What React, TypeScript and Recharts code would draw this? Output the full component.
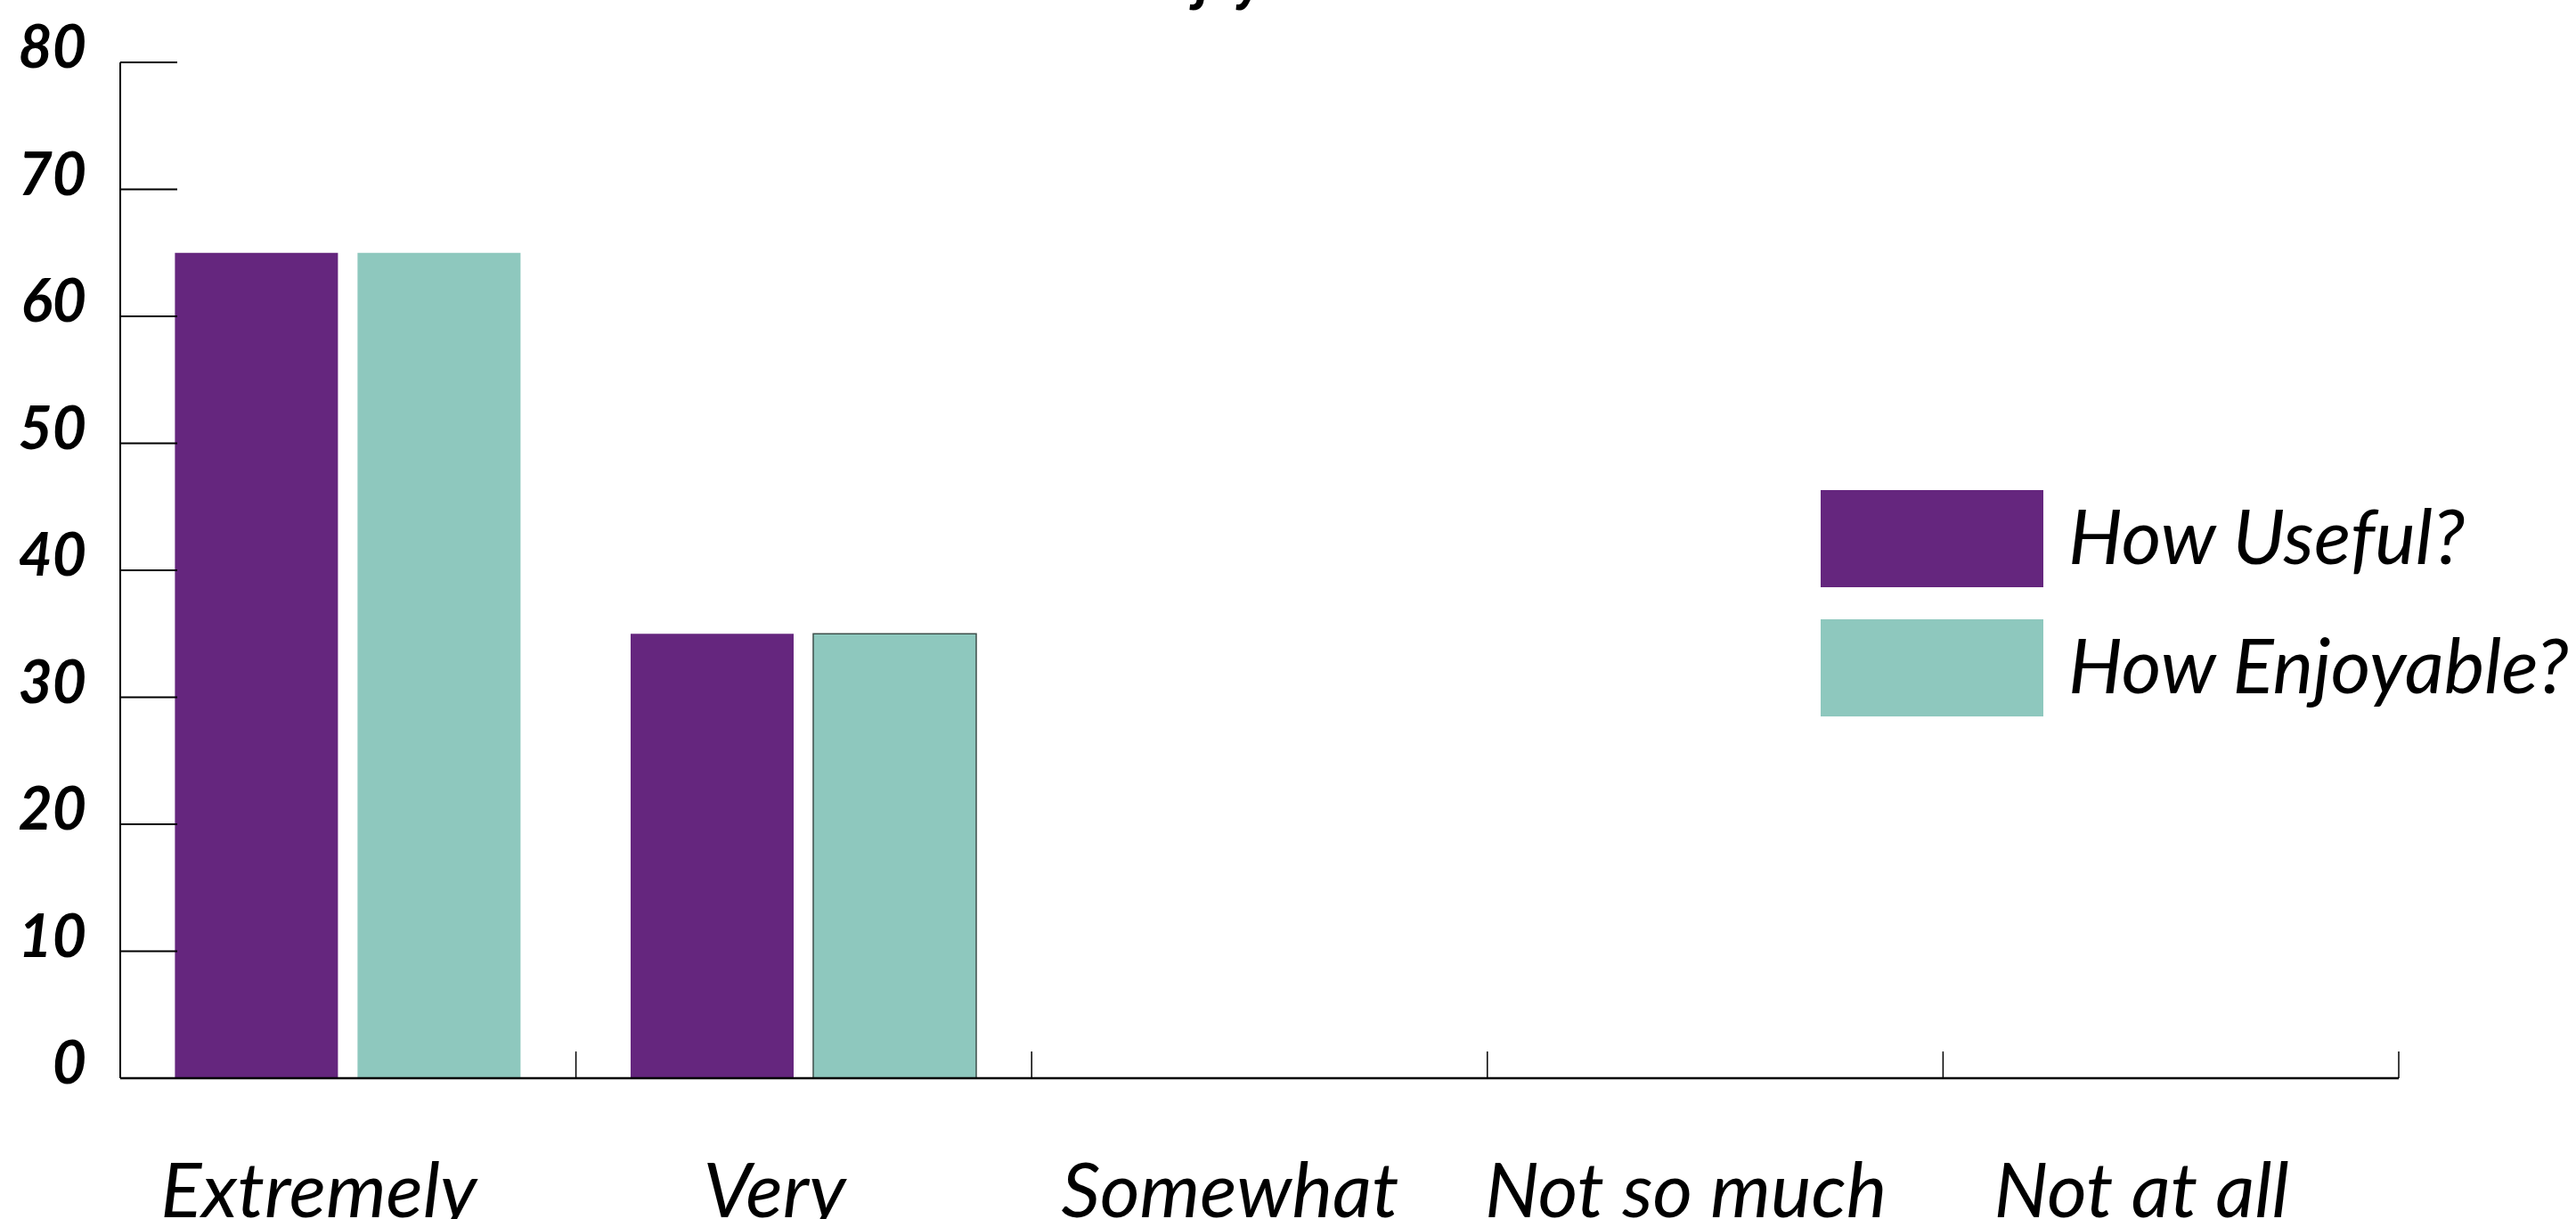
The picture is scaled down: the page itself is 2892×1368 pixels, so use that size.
import { BarChart, Bar, XAxis, YAxis, Legend, Cell, Customized } from 'recharts';

const categories = ['Extremely', 'Very', 'Somewhat', 'Not so much', 'Not at all'];
const usefulValues = [65, 35, 0, 0, 0];
const enjoyableValues = [65, 35, 0, 0, 0];
const yTicks = [0, 10, 20, 30, 40, 50, 60, 70, 80];
const seriesNames = ['How Useful?', 'How Enjoyable?'];
const title = 'How Useful and Enjoyable?';

const PURPLE = '#65267e';
const TEAL = '#8ec8be';
const FONT = 'Lato, "Open Sans", sans-serif';

const data = categories.map((name, i) => ({
  name,
  useful: usefulValues[i],
  enjoyable: enjoyableValues[i],
}));

const YTick = (props: any) => (
  <text
    x={props.x + 2}
    y={props.y + 6}
    textAnchor="end"
    fontFamily={FONT}
    fontStyle="italic"
    fontWeight={700}
    fontSize={66}
    fill="#000"
  >
    {props.payload.value}
  </text>
);

// label under each band, plus a short upward tick at the band's right edge
const XTick = (props: any) => {
  const half = props.payload.offset ?? 0;
  const edge = props.x + half;
  return (
    <g>
      <line x1={edge} x2={edge} y1={props.y} y2={props.y - 30} stroke="#000" strokeWidth={1.5} />
      <text
        x={props.x - 33}
        y={props.y + 156}
        textAnchor="middle"
        fontFamily={FONT}
        fontStyle="italic"
        fontSize={86}
        fill="#000"
      >
        {props.payload.value}
      </text>
    </g>
  );
};

const LegendBox = () => (
  <div style={{ fontFamily: FONT, fontStyle: 'italic', fontSize: 86, color: '#000', lineHeight: 1 }}>
    {seriesNames.map((name, i) => (
      <div key={name} style={{ display: 'flex', alignItems: 'center', height: 109, marginBottom: 36 }}>
        <div style={{ width: 250, height: 109, background: i === 0 ? PURPLE : TEAL, marginRight: 28, flex: 'none' }} />
        <span style={{ whiteSpace: 'nowrap', position: 'relative', top: -5 }}>{name}</span>
      </div>
    ))}
  </div>
);

const Title = () => (
  <text x={868} y={-1} fontFamily="Roboto, sans-serif" fontStyle="italic" fontWeight={700} fontSize={58} fill="#000">
    {title}
  </text>
);

export default function App() {
  return (
    <div style={{ position: 'fixed', left: 0, top: 0, background: '#fff' }}>
      <BarChart
        width={2892}
        height={1368}
        data={data}
        margin={{ top: 70, right: 199, bottom: 157, left: 0 }}
        barCategoryGap="12%"
        barGap={22}
      >
        <XAxis
          dataKey="name"
          height={1}
          axisLine={{ stroke: '#000', strokeWidth: 2.5 }}
          tickLine={false}
          tickSize={0}
          tickMargin={0}
          interval={0}
          tick={<XTick />}
        />
        <YAxis
          width={135}
          domain={[0, 80]}
          ticks={yTicks}
          interval={0}
          tickSize={-64}
          tickMargin={104}
          tick={<YTick />}
          axisLine={{ stroke: '#000', strokeWidth: 2 }}
          tickLine={{ stroke: '#000', strokeWidth: 2 }}
        />
        <Legend
          layout="horizontal"
          verticalAlign="middle"
          align="center"
          content={<LegendBox />}
          wrapperStyle={{ left: 2044, top: 550, width: 'auto' }}
        />
        <Bar dataKey="useful" name={seriesNames[0]} fill={PURPLE} isAnimationActive={false} />
        <Bar dataKey="enjoyable" name={seriesNames[1]} fill={TEAL} isAnimationActive={false}>
          {data.map((d, i) => (
            <Cell key={d.name} stroke={i === 1 ? '#3d4f4b' : 'none'} strokeWidth={1.5} />
          ))}
        </Bar>
        <Customized component={<Title />} />
      </BarChart>
    </div>
  );
}
